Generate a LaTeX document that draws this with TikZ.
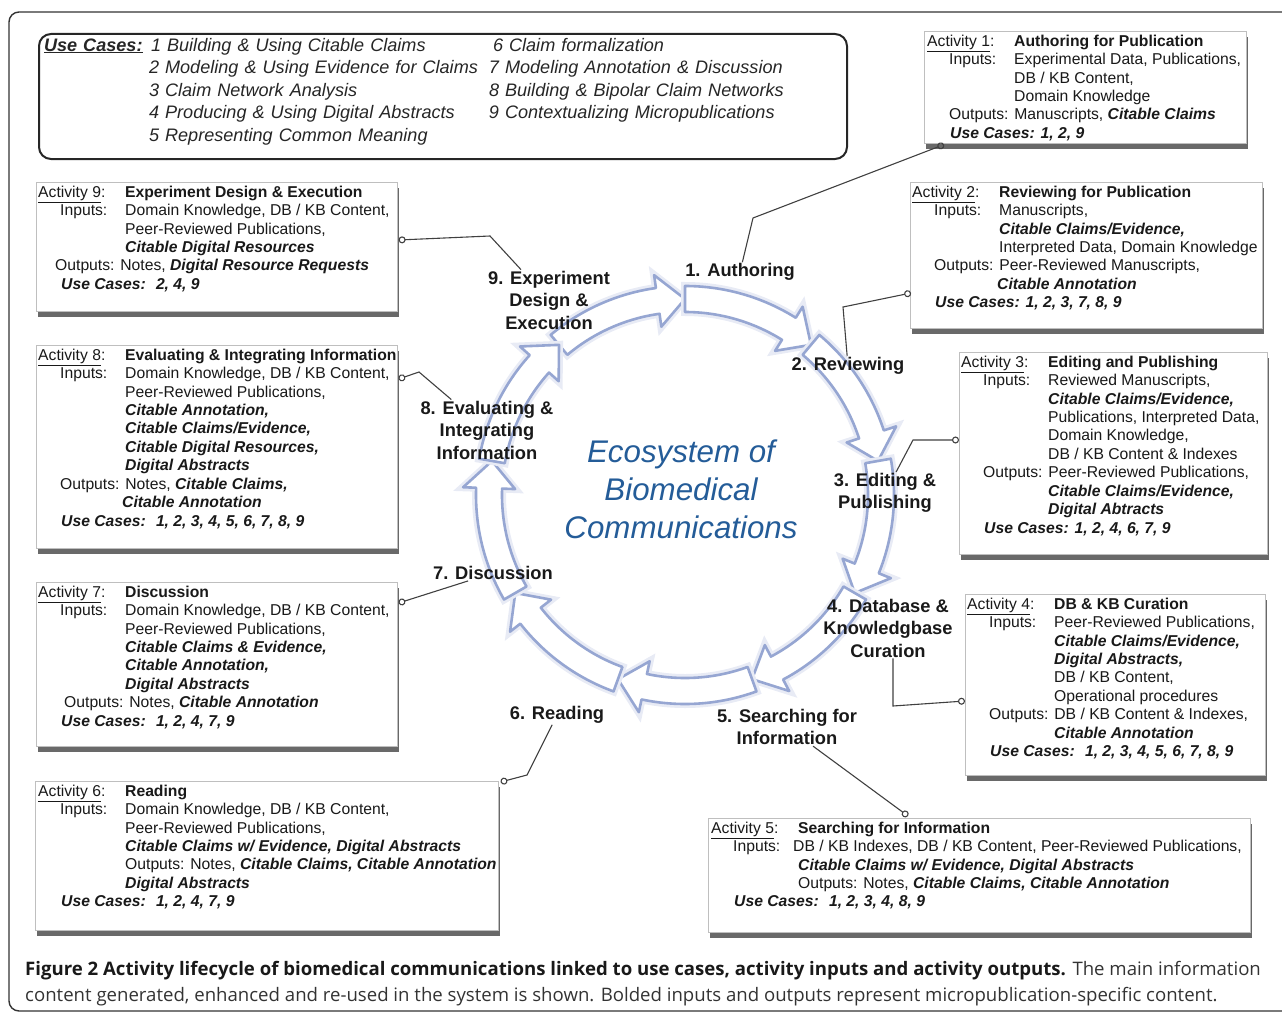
\documentclass[tikz,border=0pt]{standalone}
\usepackage{fontspec}
\setmainfont{Liberation Sans}
\newfontfamily\capfont{Open Sans}
\usetikzlibrary{arrows.meta,shadows}

\definecolor{ringline}{RGB}{150,166,210}
\definecolor{ecoblue}{RGB}{36,92,152}

% font sizes (1pt = 1px of the picture)
\newcommand{\actfont}{\fontsize{15.7}{18.45}\selectfont}
\newcommand{\casefont}{\fontsize{18.1}{22.5}\selectfont\itshape}
\newcommand{\stepfont}{\fontsize{18.3}{22.5}\selectfont\bfseries}
\newcommand{\ecofont}{\fontsize{31.3}{38}\selectfont\itshape}

% lines of an activity box
\newcommand{\bi}[1]{\textbf{\textit{#1}}}
\newcommand{\acthead}[2]{\strut\makebox[87pt][l]{\underline{Activity #1}:}\textbf{#2}}
\newcommand{\inrow}[1]{\hspace*{22pt}\makebox[65pt][l]{Inputs:}#1}
\newcommand{\controw}[1]{\hspace*{87pt}#1}
\newcommand{\outrow}[1]{\hspace*{22pt}Outputs: #1}
\newcommand{\userow}[1]{\hspace*{23pt}\bi{Use Cases: #1}}

\tikzset{
  actbox/.style={draw=black!25, line width=0.6pt, fill=white, anchor=north west, inner sep=0pt,
    drop shadow={shadow xshift=2pt, shadow yshift=-6pt, fill=black!65, opacity=0.9}},
  acttext/.style={anchor=north west, inner sep=0pt, align=left, font=\actfont, text=black!90},
  usebox/.style={draw=black!85, line width=2pt, rounded corners=12pt, anchor=north west,
    minimum width=808pt, minimum height=125pt, text width=798pt, inner xsep=5pt, align=left, font=\casefont, text=black!85},
  steplabel/.style={align=center, font=\stepfont, inner sep=1pt, text=black!90},
  link/.style={draw=black!75, line width=1.1pt, -{Circle[open, length=7pt]}},
  ringarrow/.style={preaction={draw=ringline!22, line width=8pt}, draw=ringline, line width=2.6pt, fill=white, line join=round},
  capstyle/.style={anchor=base west, inner sep=0pt, font=\capfont\fontsize{18.6}{24}\selectfont, text=black!80}
}

\begin{document}
\begin{tikzpicture}[x=1pt, y=-1pt]
    \useasboundingbox (0,0) rectangle (1282,1014);
    % outer frame
    \draw[line width=1.4pt, draw=black!80, rounded corners=10pt] (9,12) rectangle (1300,1011);

    % use cases
    \node[usebox] (usecases) at (38,33) {%
      \makebox[107pt][l]{\underline{\textbf{Use Cases:}}}\makebox[342pt][l]{1 Building \& Using Citable Claims}6 Claim formalization\\
      \hspace*{105pt}\makebox[340pt][l]{2 Modeling \& Using Evidence for Claims}7 Modeling Annotation \& Discussion\\
      \hspace*{105pt}\makebox[340pt][l]{3 Claim Network Analysis}8 Building \& Bipolar Claim Networks\\
      \hspace*{105pt}\makebox[340pt][l]{4 Producing \& Using Digital Abstracts}9 Contextualizing Micropublications\\
      \hspace*{105pt}5 Representing Common Meaning\rule[-14pt]{0pt}{1pt}};

    % the lifecycle ring
    \begin{scope}[shift={(685,495)}]
      \foreach \a in {130,90,...,-190}{
        \pgfmathsetmacro{\tip}{\a-40}
        \pgfmathsetmacro{\hb}{\a-32}
        \draw[ringarrow] (\a:209pt) arc[start angle=\a, end angle=\hb, radius=209pt]
          -- (\hb:222pt) -- (\tip:196pt) -- (\hb:170pt) -- (\hb:183pt)
          arc[start angle=\hb, end angle=\a, radius=183pt] -- cycle;
      }
    \end{scope}
    \node[font=\ecofont, text=ecoblue, align=center] (ecosystem) at (681,489) {Ecosystem of\\Biomedical\\Communications};

    % steps
    \node[steplabel] (step1) at (740,272) {1. Authoring};
    \node[steplabel] (step2) at (848,366) {2. Reviewing};
    \node[steplabel] (step3) at (885,493) {3. Editing \&\\Publishing};
    \node[steplabel] (step4) at (888,628) {4. Database \&\\Knowledgbase\\Curation};
    \node[steplabel] (step5) at (787,727) {5. Searching for\\Information};
    \node[steplabel] (step6) at (557,715) {6. Reading};
    \node[steplabel] (step7) at (493,573) {7. Discussion};
    \node[steplabel] (step8) at (487,430) {8. Evaluating \&\\Integrating\\Information};
    \node[steplabel] (step9) at (549,300) {9. Experiment\\Design \&\\Execution};

    % activity boxes
    \node[actbox, minimum width=322pt, minimum height=112pt] (act1) at (924,31) {};
    \node[acttext] (act1text) at ([shift={(3,2)}]act1.north west) {%
      \acthead{1}{Authoring for Publication}\\
      \inrow{Experimental Data, Publications,}\\
      \controw{DB / KB Content,}\\
      \controw{Domain Knowledge}\\
      \outrow{Manuscripts, \bi{Citable Claims}}\\
      \userow{1, 2, 9}};

    \node[actbox, minimum width=352pt, minimum height=146pt] (act2) at (910,182) {};
    \node[acttext] (act2text) at ([shift={(2,2)}]act2.north west) {%
      \acthead{2}{Reviewing for Publication}\\
      \inrow{Manuscripts,}\\
      \controw{\bi{Citable Claims/Evidence,}}\\
      \controw{Interpreted Data, Domain Knowledge}\\
      \outrow{Peer-Reviewed Manuscripts,}\\
      \hspace*{85pt}\bi{Citable Annotation}\\
      \userow{1, 2, 3, 7, 8, 9}};

    \node[actbox, minimum width=308pt, minimum height=202pt] (act3) at (959,352) {};
    \node[acttext] (act3text) at ([shift={(2,2)}]act3.north west) {%
      \acthead{3}{Editing and Publishing}\\
      \inrow{Reviewed Manuscripts,}\\
      \controw{\bi{Citable Claims/Evidence,}}\\
      \controw{Publications, Interpreted Data,}\\
      \controw{Domain Knowledge,}\\
      \controw{DB / KB Content \& Indexes}\\
      \outrow{Peer-Reviewed Publications,}\\
      \controw{\bi{Citable Claims/Evidence,}}\\
      \controw{\bi{Digital Abtracts}}\\
      \userow{1, 2, 4, 6, 7, 9}};

    \node[actbox, minimum width=300pt, minimum height=181pt] (act4) at (965,594) {};
    \node[acttext] (act4text) at ([shift={(2,2)}]act4.north west) {%
      \acthead{4}{DB \& KB Curation}\\
      \inrow{Peer-Reviewed Publications,}\\
      \controw{\bi{Citable Claims/Evidence,}}\\
      \controw{\bi{Digital Abstracts,}}\\
      \controw{DB / KB Content,}\\
      \controw{Operational procedures}\\
      \outrow{DB / KB Content \& Indexes,}\\
      \controw{\bi{Citable Annotation}}\\
      \userow{~1, 2, 3, 4, 5, 6, 7, 8, 9}};

    \node[actbox, minimum width=542pt, minimum height=114pt] (act5) at (708,818) {};
    \node[acttext] (act5text) at ([shift={(3,2)}]act5.north west) {%
      \acthead{5}{Searching for Information}\\
      \hspace*{22pt}\makebox[60pt][l]{Inputs:}DB / KB Indexes, DB / KB Content, Peer-Reviewed Publications,\\
      \controw{\bi{Citable Claims w/ Evidence, Digital Abstracts}}\\
      \controw{Outputs: Notes, \bi{Citable Claims, Citable Annotation}}\\
      \userow{~1, 2, 3, 4, 8, 9}};

    \node[actbox, minimum width=463pt, minimum height=149pt] (act6) at (35,781) {};
    \node[acttext] (act6text) at ([shift={(3,2)}]act6.north west) {%
      \acthead{6}{Reading}\\
      \inrow{Domain Knowledge, DB / KB Content,}\\
      \controw{Peer-Reviewed Publications,}\\
      \controw{\bi{Citable Claims w/ Evidence, Digital Abstracts}}\\
      \controw{Outputs: Notes, \bi{Citable Claims, Citable Annotation}}\\
      \controw{\bi{Digital Abstracts}}\\
      \userow{~1, 2, 4, 7, 9}};

    \node[actbox, minimum width=361pt, minimum height=164pt] (act7) at (36,582) {};
    \node[acttext] (act7text) at ([shift={(2,2)}]act7.north west) {%
      \acthead{7}{Discussion}\\
      \inrow{Domain Knowledge, DB / KB Content,}\\
      \controw{Peer-Reviewed Publications,}\\
      \controw{\bi{Citable Claims \& Evidence,}}\\
      \controw{\bi{Citable Annotation,}}\\
      \controw{\bi{Digital Abstracts}}\\
      \hspace*{26pt}Outputs: Notes, \bi{Citable Annotation}\\
      \userow{~1, 2, 4, 7, 9}};

    \node[actbox, minimum width=361pt, minimum height=203pt] (act8) at (36,345) {};
    \node[acttext] (act8text) at ([shift={(2,2)}]act8.north west) {%
      \acthead{8}{Evaluating \& Integrating Information}\\
      \inrow{Domain Knowledge, DB / KB Content,}\\
      \controw{Peer-Reviewed Publications,}\\
      \controw{\bi{Citable Annotation,}}\\
      \controw{\bi{Citable Claims/Evidence,}}\\
      \controw{\bi{Citable Digital Resources,}}\\
      \controw{\bi{Digital Abstracts}}\\
      \outrow{Notes, \bi{Citable Claims,}}\\
      \hspace*{84pt}\bi{Citable Annotation}\\
      \userow{~1, 2, 3, 4, 5, 6, 7, 8, 9}};

    \node[actbox, minimum width=361pt, minimum height=129pt] (act9) at (36,182) {};
    \node[acttext] (act9text) at ([shift={(2,2)}]act9.north west) {%
      \acthead{9}{Experiment Design \& Execution}\\
      \inrow{Domain Knowledge, DB / KB Content,}\\
      \controw{Peer-Reviewed Publications,}\\
      \controw{\bi{Citable Digital Resources}}\\
      \hspace*{17pt}Outputs: Notes, \bi{Digital Resource Requests}\\
      \userow{~2, 4, 9}};

    % links from steps to activities
    \draw[link] (step1) -- (753,218) -- ([shift={(20,1)}]act1.south west);
    \draw[link] (step2) -- (843,307) -- ([shift={(1,111)}]act2.north west);
    \draw[link] (step3) -- (913,440) -- ([shift={(0,88)}]act3.north west);
    \draw[link] ([xshift=5pt]step4.south) -- (893,706) -- ([shift={(0,107)}]act4.north west);
    \draw[link] (step5) -- ([shift={(200,-2)}]act5.north west);
    \draw[link] (step6) -- (527,775) -- ([shift={(2,1)}]act6.north east);
    \draw[link] (step7) -- ([shift={(1,21)}]act7.north east);
    \draw[link] (step8) -- (419,372) -- ([shift={(1,34)}]act8.north east);
    \draw[link] (step9) -- (490,236) -- ([shift={(1,58)}]act9.north east);

    % caption
    \node[capstyle] (caption1) at (25,975) {\textbf{\color{black!90}Figure 2 Activity lifecycle of biomedical communications linked to use cases, activity inputs and activity outputs.} The main information};
    \node[capstyle] (caption2) at (25,1001) {content generated, enhanced and re-used in the system is shown. Bolded inputs and outputs represent micropublication-specific content.};
\end{tikzpicture}
\end{document}
